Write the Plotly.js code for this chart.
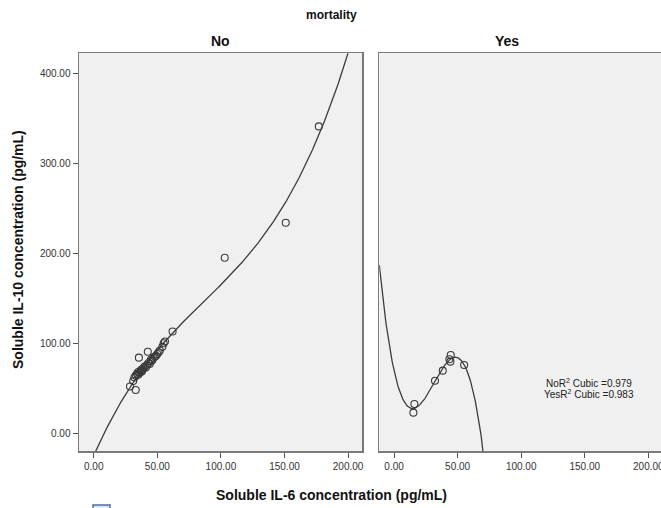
<!DOCTYPE html>
<html><head><meta charset="utf-8">
<script src="https://cdn.plot.ly/plotly-3.0.1.min.js"></script>
<style>html,body{margin:0;padding:0;overflow:hidden;background:#fff}</style>
</head><body><div id="chart"></div>
<script>
// IL-6 (x) and IL-10 (y), mortality = No
const noIL6  = [28.5, 33, 31, 32, 33, 34, 35, 35, 36, 37, 37, 38, 38, 39, 40, 41, 42, 43, 44, 45, 45, 46, 47, 48, 49, 50, 51, 52, 54, 55, 56, 62, 35.5, 42.5, 103, 151, 177];
const noIL10 = [52, 48, 58, 62, 64, 66, 65, 68, 67, 70, 68, 71, 69, 72, 74, 73, 76, 78, 77, 80, 82, 81, 84, 85, 86, 88, 90, 92, 96, 100, 102, 113, 84, 90.5, 195, 234, 341];
// mortality = Yes
const yesIL6  = [44.6, 43.5, 44.3, 55.1, 38.3, 32.2, 16.0, 15.2];
const yesIL10 = [87.0, 82.2, 79.6, 75.9, 69.6, 58.4, 32.6, 22.9];
const r2Labels = ["NoR<sup>2</sup> Cubic =0.979", "YesR<sup>2</sup> Cubic =0.983"];
const xTicks = [0, 50, 100, 150, 200];
const yTicks = [0, 100, 200, 300, 400];

function cubicFit(xs, ys) {
  const n = xs.length, m = xs.reduce((a,b)=>a+b,0)/n;
  const A = [[0,0,0,0],[0,0,0,0],[0,0,0,0],[0,0,0,0]], B = [0,0,0,0];
  for (let k=0;k<n;k++){const t=(xs[k]-m)/50;const p=[1,t,t*t,t*t*t];
    for(let i=0;i<4;i++){B[i]+=p[i]*ys[k];for(let j=0;j<4;j++)A[i][j]+=p[i]*p[j];}}
  for(let i=0;i<4;i++){let piv=i;for(let r=i+1;r<4;r++)if(Math.abs(A[r][i])>Math.abs(A[piv][i]))piv=r;
    [A[i],A[piv]]=[A[piv],A[i]];[B[i],B[piv]]=[B[piv],B[i]];
    for(let r=0;r<4;r++){if(r===i)continue;const f=A[r][i]/A[i][i];for(let c=i;c<4;c++)A[r][c]-=f*A[i][c];B[r]-=f*B[i];}}
  const c=B.map((b,i)=>b/A[i][i]);
  return x=>{const t=(x-m)/50;return c[0]+c[1]*t+c[2]*t*t+c[3]*t*t*t;};
}
function curve(xs, ys, lo, hi){const f=cubicFit(xs,ys);const X=[],Y=[];
  for(let i=0;i<=400;i++){const x=lo+(hi-lo)*i/400;X.push(x);Y.push(f(x));}return {X,Y};}

const xr=[-11.6,211.2], yr=[-19.7,422.2];
const cNo=curve(noIL6,noIL10,xr[0],xr[1]), cYes=curve(yesIL6,yesIL10,xr[0],xr[1]);
const mk={symbol:'circle-open',size:7,color:'#3a3a3a',line:{width:1.1}};
const ln={color:'#3c3c3c',width:1.3};
const traces=[
  {x:cNo.X,y:cNo.Y,mode:'lines',line:ln,xaxis:'x',yaxis:'y',hoverinfo:'skip'},
  {x:noIL6,y:noIL10,mode:'markers',marker:mk,xaxis:'x',yaxis:'y'},
  {x:cYes.X,y:cYes.Y,mode:'lines',line:ln,xaxis:'x2',yaxis:'y2',hoverinfo:'skip'},
  {x:yesIL6,y:yesIL10,mode:'markers',marker:mk,xaxis:'x2',yaxis:'y2'}
];
const W=665,H=508;
const FF='Liberation Sans, Arial, sans-serif';
const tf={family:FF,size:10,color:'#333'};
const xBase={range:xr,tickvals:xTicks,ticktext:xTicks.map(v=>v.toFixed(2)),ticks:'outside',ticklen:5,tickcolor:'#555',
  showline:true,mirror:true,linecolor:'#7a7a7a',linewidth:1.5,showgrid:false,zeroline:false,tickfont:tf};
function ann(text,px,py,size,extra){return Object.assign({text:text,x:px/W,y:1-py/H,xref:'paper',yref:'paper',showarrow:false,
  xanchor:'center',yanchor:'middle',font:{family:FF,size:size,color:'#111'}},extra||{});}
const layout={width:W,height:H,margin:{l:0,r:0,t:0,b:0},paper_bgcolor:'#fff',plot_bgcolor:'#f0f0f0',showlegend:false,
  xaxis:Object.assign({},xBase,{domain:[79/W,362.3/W],anchor:'y'}),
  xaxis2:Object.assign({},xBase,{domain:[379.3/W,662.6/W],anchor:'y2'}),
  yaxis:{range:yr,domain:[1-451/H,1-53.3/H],tickvals:yTicks,ticktext:yTicks.map(v=>v.toFixed(2)),ticks:'outside',ticklen:5,tickcolor:'#555',
    showline:true,mirror:true,linecolor:'#7a7a7a',linewidth:1.5,showgrid:false,zeroline:false,tickfont:tf,anchor:'x'},
  yaxis2:{range:yr,domain:[1-451/H,1-53.3/H],showticklabels:false,ticks:'',showline:true,mirror:true,linecolor:'#7a7a7a',linewidth:1.5,
    showgrid:false,zeroline:false,anchor:'x2'},
  annotations:[
    ann('<b>mortality</b>',331,15,12),
    ann('<b>No</b>',220,41,14),
    ann('<b>Yes</b>',507,41,14),
    ann('<b>Soluble IL-6 concentration (pg/mL)</b>',331,495,14),
    ann('<b>Soluble IL-10 concentration (pg/mL)</b>',18,250,14,{textangle:-90}),
    ann(r2Labels[0],589,382.5,10,{font:{family:FF,size:10,color:'#222'}}),
    ann(r2Labels[1],589,393.5,10,{font:{family:FF,size:10,color:'#222'}})
  ],
  shapes:[{type:'rect',xref:'paper',yref:'paper',x0:93/W,x1:110/W,y0:1-514/H,y1:1-505/H,line:{color:'#4a6fa5',width:1.5},fillcolor:'#dde6f3'}]
};
Plotly.newPlot('chart',traces,layout,{displayModeBar:false,staticPlot:true});
</script></body></html>
